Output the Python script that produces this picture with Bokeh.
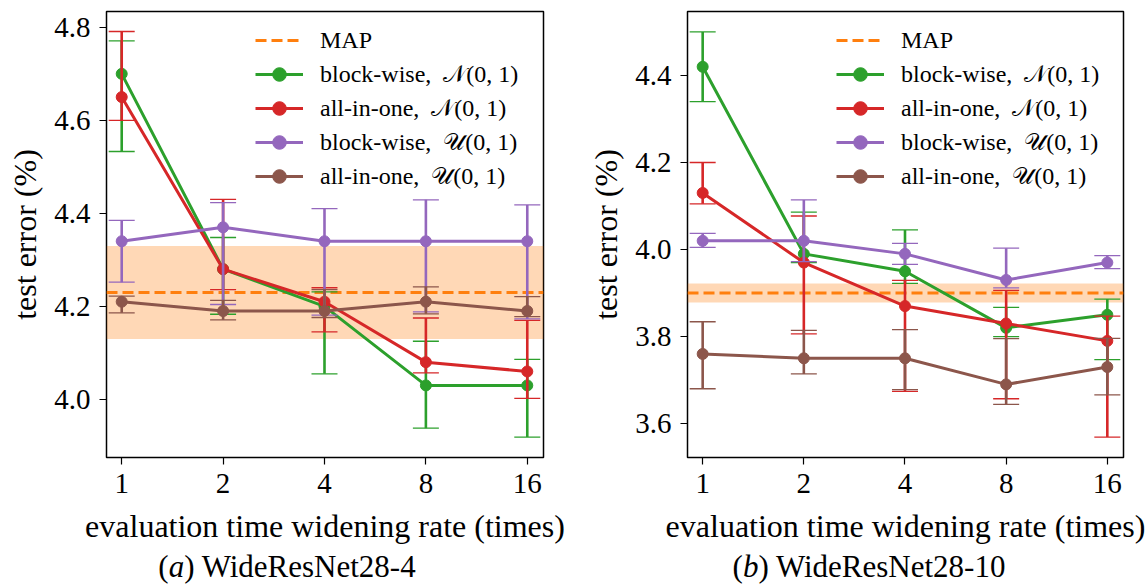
from bokeh.plotting import figure
from bokeh.models import (Range1d, FixedTicker, NumeralTickFormatter, BoxAnnotation, Span,
                          Legend, LegendItem, Div)
from bokeh.layouts import row, column
from bokeh.embed import file_html
from bokeh.resources import INLINE

rates = [1, 2, 4, 8, 16]
rate_labels = ["1", "2", "4", "8", "16"]
series_labels = ["block-wise,\u2002𝒩(0, 1)", "all-in-one,\u2002𝒩(0, 1)",
                 "block-wise,\u2002𝒰(0, 1)", "all-in-one,\u2002𝒰(0, 1)"]
colors = ["#2ca02c", "#d62728", "#9467bd", "#8c564b"]
map_color = "#ff7f0e"

# (a) WideResNet28-4
a_block_n = [4.70, 4.28, 4.20, 4.03, 4.03]
a_block_n_lo = [4.533, 4.183, 4.055, 3.938, 3.919]
a_block_n_hi = [4.771, 4.348, 4.231, 4.125, 4.086]
a_all_n = [4.65, 4.28, 4.21, 4.08, 4.06]
a_all_n_lo = [4.600, 4.236, 4.145, 4.057, 4.002]
a_all_n_hi = [4.791, 4.430, 4.240, 4.175, 4.170]
a_block_u = [4.34, 4.37, 4.34, 4.34, 4.34]
a_block_u_lo = [4.252, 4.204, 4.181, 4.188, 4.173]
a_block_u_hi = [4.385, 4.423, 4.410, 4.429, 4.418]
a_all_u = [4.21, 4.19, 4.19, 4.21, 4.19]
a_all_u_lo = [4.186, 4.171, 4.176, 4.184, 4.178]
a_all_u_hi = [4.222, 4.213, 4.236, 4.242, 4.221]
a_map = [4.23]
a_map_std = [0.10]
a_yticks = [4.0, 4.2, 4.4, 4.6, 4.8]

# (b) WideResNet28-10
b_block_n = [4.42, 3.99, 3.95, 3.82, 3.85]
b_block_n_lo = [4.340, 3.970, 3.922, 3.800, 3.747]
b_block_n_hi = [4.500, 4.086, 4.045, 3.867, 3.886]
b_all_n = [4.13, 3.97, 3.87, 3.83, 3.79]
b_all_n_lo = [4.105, 3.806, 3.674, 3.657, 3.569]
b_all_n_hi = [4.200, 4.077, 3.929, 3.906, 3.847]
b_block_u = [4.02, 4.02, 3.99, 3.93, 3.97]
b_block_u_lo = [4.005, 3.972, 3.966, 3.912, 3.956]
b_block_u_hi = [4.037, 4.114, 4.014, 4.003, 3.986]
b_all_u = [3.76, 3.75, 3.75, 3.69, 3.73]
b_all_u_lo = [3.680, 3.714, 3.678, 3.644, 3.666]
b_all_u_hi = [3.834, 3.814, 3.816, 3.795, 3.796]
b_map = [3.90]
b_map_std = [0.022]
b_yticks = [3.6, 3.8, 4.0, 4.2, 4.4]

FONT = "Liberation Serif"


def make_panel(series, map_vals, map_stds, yticks, y_range, border_left, border_right):
    p = figure(width=574, height=550, x_axis_type="log",
               x_range=Range1d(2 ** -0.15, 2 ** 4.16), y_range=Range1d(*y_range),
               output_backend="svg", toolbar_location=None,
               min_border_left=border_left, min_border_right=border_right,
               min_border_top=11, min_border_bottom=93)
    p.xgrid.visible = False
    p.ygrid.visible = False
    p.outline_line_color = "black"
    p.outline_line_width = 1.5
    p.outline_line_alpha = 1.0
    p.background_fill_color = "white"
    p.border_fill_color = "white"

    map_val, map_std = map_vals[0], map_stds[0]
    p.add_layout(BoxAnnotation(bottom=map_val - map_std, top=map_val + map_std,
                               fill_color=map_color, fill_alpha=0.3, line_alpha=0,
                               level="underlay"))
    p.add_layout(Span(location=map_val, dimension="width", line_color=map_color,
                      line_width=3, line_dash="11 5", level="underlay"))
    # single-point line: draws nothing in the plot, only provides the legend glyph
    map_r = p.line(x=rates[:1], y=map_vals, line_color=map_color, line_width=3,
                   line_dash="11 5")

    items = [LegendItem(label="MAP", renderers=[map_r])]
    for (vals, lo, hi), color, label in zip(series, colors, series_labels):
        p.segment(x0=rates, y0=lo, x1=rates, y1=hi, line_color=color, line_width=2.6)
        p.scatter(rates, lo, marker="dash", size=26, line_color=color, line_width=1.3)
        p.scatter(rates, hi, marker="dash", size=26, line_color=color, line_width=1.3)
        lr = p.line(rates, vals, line_color=color, line_width=3)
        cr = p.scatter(rates, vals, marker="circle", size=11, fill_color=color, line_color=color)
        items.append(LegendItem(label=label, renderers=[lr, cr]))

    legend = Legend(items=items, location=(149, 264), glyph_width=48, glyph_height=34,
                    label_height=34, label_standoff=17, spacing=0, padding=0, margin=0,
                    border_line_alpha=0, background_fill_alpha=0,
                    label_text_font=FONT, label_text_font_size="24px",
                    label_text_color="black")
    p.add_layout(legend)

    for ax in (p.xaxis[0], p.yaxis[0]):
        ax.axis_line_color = None
        ax.major_tick_out = 7
        ax.major_tick_in = 0
        ax.major_tick_line_color = "black"
        ax.major_tick_line_width = 1.2
        ax.minor_tick_line_color = None
        ax.major_label_text_font = FONT
        ax.major_label_text_font_size = "29px"
        ax.major_label_text_color = "black"
        ax.axis_label_text_font = FONT
        ax.axis_label_text_font_size = "32px"
        ax.axis_label_text_font_style = "normal"
        ax.axis_label_text_color = "black"
    p.xaxis.ticker = FixedTicker(ticks=rates)
    p.xaxis.major_label_overrides = dict(zip(rates, rate_labels))
    p.xaxis.major_label_standoff = 9
    p.xaxis.axis_label_standoff = 12
    p.xaxis.axis_label = "evaluation time widening rate (times)"
    p.yaxis.ticker = FixedTicker(ticks=yticks)
    p.yaxis.formatter = NumeralTickFormatter(format="0.0")
    p.yaxis.major_label_standoff = 9
    p.yaxis.axis_label_standoff = 8
    p.yaxis.axis_label = "test error (%)"
    return p


pa = make_panel([(a_block_n, a_block_n_lo, a_block_n_hi),
                 (a_all_n, a_all_n_lo, a_all_n_hi),
                 (a_block_u, a_block_u_lo, a_block_u_hi),
                 (a_all_u, a_all_u_lo, a_all_u_hi)],
                a_map, a_map_std, a_yticks, (3.875, 4.834), 106, 31)
pb = make_panel([(b_block_n, b_block_n_lo, b_block_n_hi),
                 (b_all_n, b_all_n_lo, b_all_n_hi),
                 (b_block_u, b_block_u_lo, b_block_u_hi),
                 (b_all_u, b_all_u_lo, b_all_u_hi)],
                b_map, b_map_std, b_yticks, (3.522, 4.547), 113, 25)

cap_style = ("font-family:'Liberation Serif';font-size:31px;line-height:30px;width:574px;"
             "text-align:center;color:black;white-space:nowrap;position:relative;top:2px;")
da = Div(text=f"<div style=\"{cap_style}\">(<i>a</i>) WideResNet28-4</div>",
         width=574, height=34, margin=0)
db = Div(text=f"<div style=\"{cap_style}left:8px;\">(<i>b</i>) WideResNet28-10</div>",
         width=574, height=34, margin=0)

layout = row(column(pa, da, spacing=0), column(pb, db, spacing=0), spacing=0)
open("out.html", "w").write(file_html(layout, INLINE))
